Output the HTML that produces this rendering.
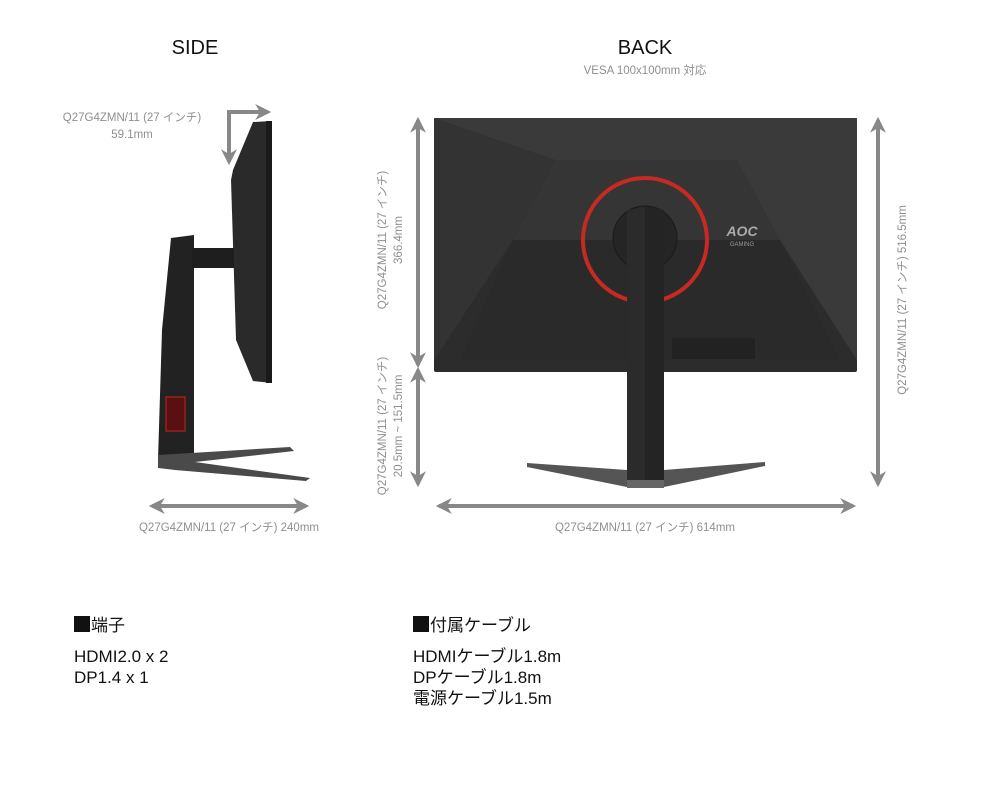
<!DOCTYPE html>
<html><head><meta charset="utf-8"><style>
body{margin:0;background:#fff;}
svg{display:block}
text{font-family:"Liberation Sans","Noto Sans CJK JP",sans-serif;}
.g{fill:#8f8f8f;font-size:11.5px}
.b{fill:#111;font-size:17px}
.sq{font-family:"Noto Sans CJK JP",sans-serif;font-size:17px}
</style></head><body>
<svg width="1000" height="789" viewBox="0 0 1000 789" xmlns="http://www.w3.org/2000/svg">
<defs>
<marker id="ah" viewBox="0 0 10 10" refX="8" refY="5" markerWidth="4" markerHeight="4" orient="auto-start-reverse">
<path d="M0,0 L10,5 L0,10 L3,5 z" fill="#888"/></marker>
</defs>
<text x="195" y="54" text-anchor="middle" font-size="20" fill="#111">SIDE</text>
<text x="645" y="54" text-anchor="middle" font-size="20" fill="#111">BACK</text>
<text x="645" y="74" text-anchor="middle" class="g">VESA 100x100mm 対応</text>

<!-- SIDE -->
<text x="132" y="121" text-anchor="middle" class="g">Q27G4ZMN/11 (27 インチ)</text>
<text x="132" y="138" text-anchor="middle" class="g">59.1mm</text>
<polyline points="229,162 229,112 268,112" fill="none" stroke="#888" stroke-width="4" marker-start="url(#ah)" marker-end="url(#ah)"/>
<polygon points="253,122 272,121 272,383 253,381 236,340 231,180 233,170" fill="#2a2a2a"/>
<rect x="266" y="121" width="6" height="262" fill="#1a1a1a"/>
<polygon points="171,238 194,235 194,455 158,460 162,330" fill="#222"/>
<rect x="192" y="248" width="42" height="20" fill="#1e1e1e"/>
<rect x="166" y="397" width="19" height="34" fill="#5a1010" stroke="#c0281f" stroke-width="1"/>
<polygon points="158,455 290,447 294,451 195,462 310,478 306,481 175,470 158,468" fill="#4a4a4a"/>
<line x1="152" y1="506" x2="306" y2="506" stroke="#888" stroke-width="4" marker-start="url(#ah)" marker-end="url(#ah)"/>
<text x="229" y="531" text-anchor="middle" class="g">Q27G4ZMN/11 (27 インチ) 240mm</text>

<!-- BACK -->
<rect x="434" y="118" width="423" height="254" rx="2" fill="#2c2c2c"/>
<polygon points="434,118 857,118 737,160 555,160" fill="#3a3a3a"/>
<polygon points="555,160 737,160 780,240 513,240" fill="#353535"/>
<polygon points="434,118 555,160 513,240 434,360" fill="#333"/>
<polygon points="857,118 737,160 780,240 857,360" fill="#3a3a3a"/>
<polygon points="513,240 780,240 840,360 460,360" fill="#2a2a2a"/>
<rect x="672" y="338" width="83" height="21" fill="#222"/>
<circle cx="645" cy="240" r="62" fill="none" stroke="#c62a22" stroke-width="4"/>
<circle cx="645" cy="238" r="32" fill="#252525" stroke="#1a1a1a"/>
<text x="742" y="236" text-anchor="middle" font-size="14" font-weight="bold" font-style="italic" fill="#aaa">AOC</text>
<text x="742" y="246" text-anchor="middle" font-size="6" fill="#999">GAMING</text>
<polygon points="527,463 627,470 664,470 765,462 765,466 664,487 627,487 527,467" fill="#555"/>
<rect x="627" y="478" width="37" height="10" fill="#666"/>
<polygon points="627,210 645,207 664,210 664,480 627,480" fill="#2b2b2b"/>
<polygon points="645,207 664,210 664,480 645,480" fill="#242424"/>

<line x1="418" y1="120" x2="418" y2="365" stroke="#888" stroke-width="4" marker-start="url(#ah)" marker-end="url(#ah)"/>
<line x1="418" y1="370" x2="418" y2="484" stroke="#888" stroke-width="4" marker-start="url(#ah)" marker-end="url(#ah)"/>
<line x1="878" y1="120" x2="878" y2="484" stroke="#888" stroke-width="4" marker-start="url(#ah)" marker-end="url(#ah)"/>
<line x1="439" y1="506" x2="853" y2="506" stroke="#888" stroke-width="4" marker-start="url(#ah)" marker-end="url(#ah)"/>
<text x="645" y="531" text-anchor="middle" class="g">Q27G4ZMN/11 (27 インチ) 614mm</text>
<g transform="translate(386,240) rotate(-90)"><text x="0" y="0" text-anchor="middle" class="g">Q27G4ZMN/11 (27 インチ)</text><text x="0" y="16" text-anchor="middle" class="g">366.4mm</text></g>
<g transform="translate(386,426) rotate(-90)"><text x="0" y="0" text-anchor="middle" class="g">Q27G4ZMN/11 (27 インチ)</text><text x="0" y="16" text-anchor="middle" class="g">20.5mm ~ 151.5mm</text></g>
<g transform="translate(906,300) rotate(-90)"><text x="0" y="0" text-anchor="middle" class="g">Q27G4ZMN/11 (27 インチ) 516.5mm</text></g>

<rect x="74" y="616" width="16" height="16" fill="#111"/>
<text x="91" y="631" class="b">端子</text>
<text x="74" y="662" class="b">HDMI2.0 x 2</text>
<text x="74" y="683" class="b">DP1.4 x 1</text>
<rect x="413" y="616" width="16" height="16" fill="#111"/>
<text x="430" y="631" class="b">付属ケーブル</text>
<text x="413" y="662" class="b">HDMIケーブル1.8m</text>
<text x="413" y="683" class="b">DPケーブル1.8m</text>
<text x="413" y="704" class="b">電源ケーブル1.5m</text>
</svg>
</body></html>
